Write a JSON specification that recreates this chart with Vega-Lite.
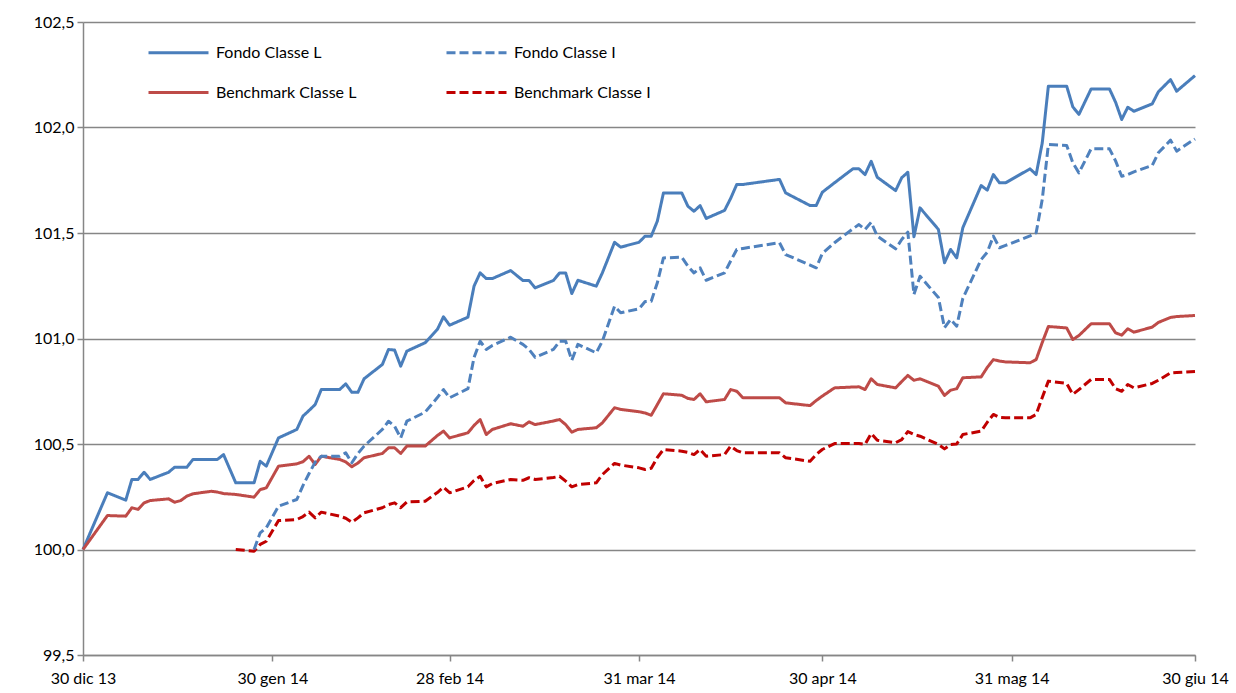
{
  "$schema": "https://vega.github.io/schema/vega-lite/v6.json",
  "width": 1112,
  "height": 633,
  "autosize": "none",
  "padding": {"left": 83, "top": 22, "right": 41, "bottom": 38},
  "background": "white",
  "config": {
    "view": {"stroke": null},
    "font": "Lato",
    "axis": {"labelFont": "Lato", "labelFontSize": 16, "labelColor": "#000000", "titleFont": "Lato"},
    "legend": {"labelFont": "Lato"}
  },
  "data": {
    "values": [
      {"d": "2013-12-30", "Fondo Classe L": 100.000, "Benchmark Classe L": 100.000},
      {"d": "2014-01-03", "Fondo Classe L": 100.269, "Benchmark Classe L": 100.161},
      {"d": "2014-01-06", "Fondo Classe L": 100.234, "Benchmark Classe L": 100.158},
      {"d": "2014-01-07", "Fondo Classe L": 100.332, "Benchmark Classe L": 100.198},
      {"d": "2014-01-08", "Fondo Classe L": 100.332, "Benchmark Classe L": 100.190},
      {"d": "2014-01-09", "Fondo Classe L": 100.366, "Benchmark Classe L": 100.221},
      {"d": "2014-01-10", "Fondo Classe L": 100.332, "Benchmark Classe L": 100.232},
      {"d": "2014-01-13", "Fondo Classe L": 100.366, "Benchmark Classe L": 100.240},
      {"d": "2014-01-14", "Fondo Classe L": 100.390, "Benchmark Classe L": 100.224},
      {"d": "2014-01-15", "Fondo Classe L": 100.390, "Benchmark Classe L": 100.232},
      {"d": "2014-01-16", "Fondo Classe L": 100.390, "Benchmark Classe L": 100.253},
      {"d": "2014-01-17", "Fondo Classe L": 100.427, "Benchmark Classe L": 100.264},
      {"d": "2014-01-20", "Fondo Classe L": 100.427, "Benchmark Classe L": 100.276},
      {"d": "2014-01-21", "Fondo Classe L": 100.427, "Benchmark Classe L": 100.272},
      {"d": "2014-01-22", "Fondo Classe L": 100.450, "Benchmark Classe L": 100.265},
      {"d": "2014-01-24", "Fondo Classe L": 100.316, "Benchmark Classe L": 100.261, "Benchmark Classe I": 100.000},
      {"d": "2014-01-27", "Fondo Classe L": 100.316, "Fondo Classe I": 100.000, "Benchmark Classe L": 100.248, "Benchmark Classe I": 99.992},
      {"d": "2014-01-28", "Fondo Classe L": 100.418, "Fondo Classe I": 100.079, "Benchmark Classe L": 100.284, "Benchmark Classe I": 100.024},
      {"d": "2014-01-29", "Fondo Classe L": 100.395, "Fondo Classe I": 100.103, "Benchmark Classe L": 100.292, "Benchmark Classe I": 100.039},
      {"d": "2014-01-31", "Fondo Classe L": 100.529, "Fondo Classe I": 100.205, "Benchmark Classe L": 100.395, "Benchmark Classe I": 100.137},
      {"d": "2014-02-03", "Fondo Classe L": 100.569, "Fondo Classe I": 100.237, "Benchmark Classe L": 100.406, "Benchmark Classe I": 100.142},
      {"d": "2014-02-04", "Fondo Classe L": 100.632, "Fondo Classe I": 100.303, "Benchmark Classe L": 100.416, "Benchmark Classe I": 100.156},
      {"d": "2014-02-05", "Fondo Classe L": 100.659, "Fondo Classe I": 100.360, "Benchmark Classe L": 100.442, "Benchmark Classe I": 100.177},
      {"d": "2014-02-06", "Fondo Classe L": 100.687, "Fondo Classe I": 100.414, "Benchmark Classe L": 100.403, "Benchmark Classe I": 100.150},
      {"d": "2014-02-07", "Fondo Classe L": 100.758, "Fondo Classe I": 100.442, "Benchmark Classe L": 100.442, "Benchmark Classe I": 100.177},
      {"d": "2014-02-10", "Fondo Classe L": 100.758, "Fondo Classe I": 100.442, "Benchmark Classe L": 100.427, "Benchmark Classe I": 100.158},
      {"d": "2014-02-11", "Fondo Classe L": 100.785, "Fondo Classe I": 100.458, "Benchmark Classe L": 100.415, "Benchmark Classe I": 100.148},
      {"d": "2014-02-12", "Fondo Classe L": 100.745, "Fondo Classe I": 100.411, "Benchmark Classe L": 100.392, "Benchmark Classe I": 100.129},
      {"d": "2014-02-13", "Fondo Classe L": 100.745, "Fondo Classe I": 100.455, "Benchmark Classe L": 100.410, "Benchmark Classe I": 100.150},
      {"d": "2014-02-14", "Fondo Classe L": 100.809, "Fondo Classe I": 100.490, "Benchmark Classe L": 100.435, "Benchmark Classe I": 100.174},
      {"d": "2014-02-17", "Fondo Classe L": 100.877, "Fondo Classe I": 100.569, "Benchmark Classe L": 100.455, "Benchmark Classe I": 100.198},
      {"d": "2014-02-18", "Fondo Classe L": 100.948, "Fondo Classe I": 100.608, "Benchmark Classe L": 100.482, "Benchmark Classe I": 100.213},
      {"d": "2014-02-19", "Fondo Classe L": 100.945, "Fondo Classe I": 100.584, "Benchmark Classe L": 100.482, "Benchmark Classe I": 100.221},
      {"d": "2014-02-20", "Fondo Classe L": 100.869, "Fondo Classe I": 100.529, "Benchmark Classe L": 100.455, "Benchmark Classe I": 100.198},
      {"d": "2014-02-21", "Fondo Classe L": 100.940, "Fondo Classe I": 100.608, "Benchmark Classe L": 100.490, "Benchmark Classe I": 100.225},
      {"d": "2014-02-24", "Fondo Classe L": 100.980, "Fondo Classe I": 100.651, "Benchmark Classe L": 100.490, "Benchmark Classe I": 100.229},
      {"d": "2014-02-26", "Fondo Classe L": 101.043, "Fondo Classe I": 100.720, "Benchmark Classe L": 100.540, "Benchmark Classe I": 100.270},
      {"d": "2014-02-27", "Fondo Classe L": 101.103, "Fondo Classe I": 100.758, "Benchmark Classe L": 100.561, "Benchmark Classe I": 100.295},
      {"d": "2014-02-28", "Fondo Classe L": 101.063, "Fondo Classe I": 100.719, "Benchmark Classe L": 100.529, "Benchmark Classe I": 100.269},
      {"d": "2014-03-03", "Fondo Classe L": 101.101, "Fondo Classe I": 100.762, "Benchmark Classe L": 100.553, "Benchmark Classe I": 100.297},
      {"d": "2014-03-04", "Fondo Classe L": 101.248, "Fondo Classe I": 100.910, "Benchmark Classe L": 100.588, "Benchmark Classe I": 100.327},
      {"d": "2014-03-05", "Fondo Classe L": 101.311, "Fondo Classe I": 100.987, "Benchmark Classe L": 100.616, "Benchmark Classe I": 100.347},
      {"d": "2014-03-06", "Fondo Classe L": 101.284, "Fondo Classe I": 100.948, "Benchmark Classe L": 100.545, "Benchmark Classe I": 100.297},
      {"d": "2014-03-07", "Fondo Classe L": 101.284, "Fondo Classe I": 100.967, "Benchmark Classe L": 100.569, "Benchmark Classe I": 100.313},
      {"d": "2014-03-10", "Fondo Classe L": 101.322, "Fondo Classe I": 101.006, "Benchmark Classe L": 100.596, "Benchmark Classe I": 100.332},
      {"d": "2014-03-12", "Fondo Classe L": 101.275, "Fondo Classe I": 100.972, "Benchmark Classe L": 100.584, "Benchmark Classe I": 100.328},
      {"d": "2014-03-13", "Fondo Classe L": 101.275, "Fondo Classe I": 100.948, "Benchmark Classe L": 100.605, "Benchmark Classe I": 100.340},
      {"d": "2014-03-14", "Fondo Classe L": 101.240, "Fondo Classe I": 100.911, "Benchmark Classe L": 100.592, "Benchmark Classe I": 100.332},
      {"d": "2014-03-17", "Fondo Classe L": 101.275, "Fondo Classe I": 100.948, "Benchmark Classe L": 100.609, "Benchmark Classe I": 100.341},
      {"d": "2014-03-18", "Fondo Classe L": 101.311, "Fondo Classe I": 100.987, "Benchmark Classe L": 100.616, "Benchmark Classe I": 100.347},
      {"d": "2014-03-19", "Fondo Classe L": 101.311, "Fondo Classe I": 100.987, "Benchmark Classe L": 100.592, "Benchmark Classe I": 100.324},
      {"d": "2014-03-20", "Fondo Classe L": 101.213, "Fondo Classe I": 100.897, "Benchmark Classe L": 100.556, "Benchmark Classe I": 100.297},
      {"d": "2014-03-21", "Fondo Classe L": 101.276, "Fondo Classe I": 100.972, "Benchmark Classe L": 100.569, "Benchmark Classe I": 100.308},
      {"d": "2014-03-24", "Fondo Classe L": 101.248, "Fondo Classe I": 100.932, "Benchmark Classe L": 100.577, "Benchmark Classe I": 100.316},
      {"d": "2014-03-25", "Fondo Classe L": 101.311, "Fondo Classe I": 100.987, "Benchmark Classe L": 100.600, "Benchmark Classe I": 100.355},
      {"d": "2014-03-27", "Fondo Classe L": 101.456, "Fondo Classe I": 101.153, "Benchmark Classe L": 100.672, "Benchmark Classe I": 100.408},
      {"d": "2014-03-28", "Fondo Classe L": 101.433, "Fondo Classe I": 101.122, "Benchmark Classe L": 100.664, "Benchmark Classe I": 100.400},
      {"d": "2014-03-31", "Fondo Classe L": 101.456, "Fondo Classe I": 101.141, "Benchmark Classe L": 100.653, "Benchmark Classe I": 100.387},
      {"d": "2014-04-01", "Fondo Classe L": 101.485, "Fondo Classe I": 101.175, "Benchmark Classe L": 100.647, "Benchmark Classe I": 100.379},
      {"d": "2014-04-02", "Fondo Classe L": 101.485, "Fondo Classe I": 101.177, "Benchmark Classe L": 100.636, "Benchmark Classe I": 100.385},
      {"d": "2014-04-03", "Fondo Classe L": 101.556, "Fondo Classe I": 101.264, "Benchmark Classe L": 100.687, "Benchmark Classe I": 100.436},
      {"d": "2014-04-04", "Fondo Classe L": 101.690, "Fondo Classe I": 101.382, "Benchmark Classe L": 100.738, "Benchmark Classe I": 100.474},
      {"d": "2014-04-07", "Fondo Classe L": 101.690, "Fondo Classe I": 101.385, "Benchmark Classe L": 100.731, "Benchmark Classe I": 100.466},
      {"d": "2014-04-08", "Fondo Classe L": 101.627, "Fondo Classe I": 101.343, "Benchmark Classe L": 100.716, "Benchmark Classe I": 100.460},
      {"d": "2014-04-09", "Fondo Classe L": 101.603, "Fondo Classe I": 101.311, "Benchmark Classe L": 100.711, "Benchmark Classe I": 100.450},
      {"d": "2014-04-10", "Fondo Classe L": 101.630, "Fondo Classe I": 101.335, "Benchmark Classe L": 100.738, "Benchmark Classe I": 100.474},
      {"d": "2014-04-11", "Fondo Classe L": 101.569, "Fondo Classe I": 101.276, "Benchmark Classe L": 100.700, "Benchmark Classe I": 100.442},
      {"d": "2014-04-14", "Fondo Classe L": 101.607, "Fondo Classe I": 101.311, "Benchmark Classe L": 100.711, "Benchmark Classe I": 100.450},
      {"d": "2014-04-15", "Fondo Classe L": 101.664, "Fondo Classe I": 101.367, "Benchmark Classe L": 100.758, "Benchmark Classe I": 100.490},
      {"d": "2014-04-16", "Fondo Classe L": 101.730, "Fondo Classe I": 101.422, "Benchmark Classe L": 100.750, "Benchmark Classe I": 100.469},
      {"d": "2014-04-17", "Fondo Classe L": 101.730, "Fondo Classe I": 101.427, "Benchmark Classe L": 100.719, "Benchmark Classe I": 100.458},
      {"d": "2014-04-23", "Fondo Classe L": 101.754, "Fondo Classe I": 101.454, "Benchmark Classe L": 100.719, "Benchmark Classe I": 100.458},
      {"d": "2014-04-24", "Fondo Classe L": 101.690, "Fondo Classe I": 101.398, "Benchmark Classe L": 100.695, "Benchmark Classe I": 100.435},
      {"d": "2014-04-28", "Fondo Classe L": 101.630, "Fondo Classe I": 101.348, "Benchmark Classe L": 100.682, "Benchmark Classe I": 100.418},
      {"d": "2014-04-29", "Fondo Classe L": 101.630, "Fondo Classe I": 101.335, "Benchmark Classe L": 100.706, "Benchmark Classe I": 100.450},
      {"d": "2014-04-30", "Fondo Classe L": 101.693, "Fondo Classe I": 101.403, "Benchmark Classe L": 100.727, "Benchmark Classe I": 100.474},
      {"d": "2014-05-02", "Fondo Classe L": 101.738, "Fondo Classe I": 101.454, "Benchmark Classe L": 100.766, "Benchmark Classe I": 100.502},
      {"d": "2014-05-05", "Fondo Classe L": 101.804, "Fondo Classe I": 101.520, "Benchmark Classe L": 100.770, "Benchmark Classe I": 100.502},
      {"d": "2014-05-06", "Fondo Classe L": 101.804, "Fondo Classe I": 101.540, "Benchmark Classe L": 100.771, "Benchmark Classe I": 100.502},
      {"d": "2014-05-07", "Fondo Classe L": 101.777, "Fondo Classe I": 101.517, "Benchmark Classe L": 100.758, "Benchmark Classe I": 100.498},
      {"d": "2014-05-08", "Fondo Classe L": 101.840, "Fondo Classe I": 101.551, "Benchmark Classe L": 100.809, "Benchmark Classe I": 100.550},
      {"d": "2014-05-09", "Fondo Classe L": 101.764, "Fondo Classe I": 101.485, "Benchmark Classe L": 100.782, "Benchmark Classe I": 100.518},
      {"d": "2014-05-12", "Fondo Classe L": 101.701, "Fondo Classe I": 101.425, "Benchmark Classe L": 100.766, "Benchmark Classe I": 100.506},
      {"d": "2014-05-13", "Fondo Classe L": 101.762, "Fondo Classe I": 101.469, "Benchmark Classe L": 100.796, "Benchmark Classe I": 100.521},
      {"d": "2014-05-14", "Fondo Classe L": 101.788, "Fondo Classe I": 101.504, "Benchmark Classe L": 100.825, "Benchmark Classe I": 100.559},
      {"d": "2014-05-15", "Fondo Classe L": 101.482, "Fondo Classe I": 101.209, "Benchmark Classe L": 100.802, "Benchmark Classe I": 100.545},
      {"d": "2014-05-16", "Fondo Classe L": 101.619, "Fondo Classe I": 101.295, "Benchmark Classe L": 100.809, "Benchmark Classe I": 100.537},
      {"d": "2014-05-19", "Fondo Classe L": 101.517, "Fondo Classe I": 101.194, "Benchmark Classe L": 100.774, "Benchmark Classe I": 100.498},
      {"d": "2014-05-20", "Fondo Classe L": 101.359, "Fondo Classe I": 101.051, "Benchmark Classe L": 100.730, "Benchmark Classe I": 100.477},
      {"d": "2014-05-21", "Fondo Classe L": 101.422, "Fondo Classe I": 101.090, "Benchmark Classe L": 100.755, "Benchmark Classe I": 100.498},
      {"d": "2014-05-22", "Fondo Classe L": 101.382, "Fondo Classe I": 101.058, "Benchmark Classe L": 100.762, "Benchmark Classe I": 100.500},
      {"d": "2014-05-23", "Fondo Classe L": 101.525, "Fondo Classe I": 101.190, "Benchmark Classe L": 100.814, "Benchmark Classe I": 100.545},
      {"d": "2014-05-26", "Fondo Classe L": 101.725, "Fondo Classe I": 101.374, "Benchmark Classe L": 100.818, "Benchmark Classe I": 100.561},
      {"d": "2014-05-27", "Fondo Classe L": 101.703, "Fondo Classe I": 101.409, "Benchmark Classe L": 100.863, "Benchmark Classe I": 100.603},
      {"d": "2014-05-28", "Fondo Classe L": 101.777, "Fondo Classe I": 101.485, "Benchmark Classe L": 100.900, "Benchmark Classe I": 100.640},
      {"d": "2014-05-29", "Fondo Classe L": 101.738, "Fondo Classe I": 101.430, "Benchmark Classe L": 100.893, "Benchmark Classe I": 100.626},
      {"d": "2014-05-30", "Fondo Classe L": 101.738, "Fondo Classe I": 101.441, "Benchmark Classe L": 100.889, "Benchmark Classe I": 100.624},
      {"d": "2014-06-03", "Fondo Classe L": 101.804, "Fondo Classe I": 101.486, "Benchmark Classe L": 100.885, "Benchmark Classe I": 100.624},
      {"d": "2014-06-04", "Fondo Classe L": 101.777, "Fondo Classe I": 101.501, "Benchmark Classe L": 100.900, "Benchmark Classe I": 100.640},
      {"d": "2014-06-05", "Fondo Classe L": 101.927, "Fondo Classe I": 101.659, "Benchmark Classe L": 100.981, "Benchmark Classe I": 100.720},
      {"d": "2014-06-06", "Fondo Classe L": 102.196, "Fondo Classe I": 101.919, "Benchmark Classe L": 101.057, "Benchmark Classe I": 100.798},
      {"d": "2014-06-09", "Fondo Classe L": 102.196, "Fondo Classe I": 101.915, "Benchmark Classe L": 101.050, "Benchmark Classe I": 100.787},
      {"d": "2014-06-10", "Fondo Classe L": 102.098, "Fondo Classe I": 101.833, "Benchmark Classe L": 100.995, "Benchmark Classe I": 100.735},
      {"d": "2014-06-11", "Fondo Classe L": 102.062, "Fondo Classe I": 101.785, "Benchmark Classe L": 101.014, "Benchmark Classe I": 100.758},
      {"d": "2014-06-13", "Fondo Classe L": 102.183, "Fondo Classe I": 101.899, "Benchmark Classe L": 101.070, "Benchmark Classe I": 100.806},
      {"d": "2014-06-16", "Fondo Classe L": 102.183, "Fondo Classe I": 101.899, "Benchmark Classe L": 101.070, "Benchmark Classe I": 100.806},
      {"d": "2014-06-17", "Fondo Classe L": 102.120, "Fondo Classe I": 101.842, "Benchmark Classe L": 101.027, "Benchmark Classe I": 100.762},
      {"d": "2014-06-18", "Fondo Classe L": 102.038, "Fondo Classe I": 101.769, "Benchmark Classe L": 101.016, "Benchmark Classe I": 100.750},
      {"d": "2014-06-19", "Fondo Classe L": 102.096, "Fondo Classe I": 101.777, "Benchmark Classe L": 101.046, "Benchmark Classe I": 100.782},
      {"d": "2014-06-20", "Fondo Classe L": 102.077, "Fondo Classe I": 101.790, "Benchmark Classe L": 101.030, "Benchmark Classe I": 100.766},
      {"d": "2014-06-23", "Fondo Classe L": 102.112, "Fondo Classe I": 101.820, "Benchmark Classe L": 101.054, "Benchmark Classe I": 100.787},
      {"d": "2014-06-24", "Fondo Classe L": 102.169, "Fondo Classe I": 101.880, "Benchmark Classe L": 101.076, "Benchmark Classe I": 100.802},
      {"d": "2014-06-26", "Fondo Classe L": 102.227, "Fondo Classe I": 101.940, "Benchmark Classe L": 101.100, "Benchmark Classe I": 100.837},
      {"d": "2014-06-27", "Fondo Classe L": 102.172, "Fondo Classe I": 101.888, "Benchmark Classe L": 101.104, "Benchmark Classe I": 100.839},
      {"d": "2014-06-30", "Fondo Classe L": 102.246, "Fondo Classe I": 101.946, "Benchmark Classe L": 101.109, "Benchmark Classe I": 100.844}
    ],
    "format": {"parse": {"d": "utc:'%Y-%m-%d'"}}
  },
  "transform": [
    {"fold": ["Fondo Classe L", "Fondo Classe I", "Benchmark Classe L", "Benchmark Classe I"], "as": ["serie", "valore"]},
    {"filter": "isValid(datum.valore)"}
  ],
  "mark": {"type": "line", "strokeWidth": 3, "strokeJoin": "round", "strokeCap": "butt", "clip": false},
  "encoding": {
    "x": {
      "field": "d",
      "type": "temporal",
      "scale": {
        "type": "utc",
        "domain": [
          {"year": 2013, "month": 12, "date": 30, "utc": true},
          {"year": 2014, "month": 6, "date": 30, "utc": true}
        ],
        "nice": false
      },
      "axis": {
        "title": null,
        "grid": false,
        "values": [
          {"year": 2013, "month": 12, "date": 30, "utc": true},
          {"year": 2014, "month": 1, "date": 30, "utc": true},
          {"year": 2014, "month": 2, "date": 28, "utc": true},
          {"year": 2014, "month": 3, "date": 31, "utc": true},
          {"year": 2014, "month": 4, "date": 30, "utc": true},
          {"year": 2014, "month": 5, "date": 31, "utc": true},
          {"year": 2014, "month": 6, "date": 30, "utc": true}
        ],
        "labelExpr": "utcdate(datum.value) + ' ' + ['gen','feb','mar','apr','mag','giu','lug','ago','set','ott','nov','dic'][utcmonth(datum.value)] + ' ' + utcFormat(datum.value, '%y')",
        "labelFlush": false,
        "labelOverlap": false,
        "domain": true,
        "domainColor": "#868686",
        "domainWidth": 1.5,
        "ticks": true,
        "tickColor": "#868686",
        "tickWidth": 1.5,
        "tickSize": 6,
        "labelPadding": 9
      }
    },
    "y": {
      "field": "valore",
      "type": "quantitative",
      "scale": {"domain": [99.5, 102.5], "nice": false, "zero": false},
      "axis": {
        "title": null,
        "values": [99.5, 100, 100.5, 101, 101.5, 102, 102.5],
        "labelExpr": "replace(format(datum.value, '.1f'), '.', ',')",
        "grid": true,
        "gridColor": "#868686",
        "gridWidth": 1.5,
        "domain": true,
        "domainColor": "#868686",
        "domainWidth": 1.5,
        "ticks": true,
        "tickColor": "#868686",
        "tickWidth": 1.5,
        "tickSize": 6,
        "labelPadding": 3
      }
    },
    "color": {
      "field": "serie",
      "type": "nominal",
      "scale": {
        "domain": ["Fondo Classe L", "Fondo Classe I", "Benchmark Classe L", "Benchmark Classe I"],
        "range": ["#4A7EBB", "#4F81BD", "#BE4B48", "#C00000"]
      },
      "legend": {
        "title": null,
        "orient": "none",
        "legendX": 64,
        "legendY": -1,
        "columns": 2,
        "direction": "horizontal",
        "symbolType": "stroke",
        "symbolSize": 3600,
        "symbolStrokeWidth": 3,
        "labelFontSize": 16,
        "labelColor": "#000000",
        "labelOffset": 6,
        "columnPadding": 83,
        "rowPadding": 0,
        "padding": 0
      }
    },
    "strokeDash": {
      "field": "serie",
      "type": "nominal",
      "scale": {
        "domain": ["Fondo Classe L", "Fondo Classe I", "Benchmark Classe L", "Benchmark Classe I"],
        "range": [[1, 0], [9, 4], [1, 0], [9, 4]]
      },
      "legend": null
    },
    "order": {"field": "d", "type": "temporal"}
  }
}
